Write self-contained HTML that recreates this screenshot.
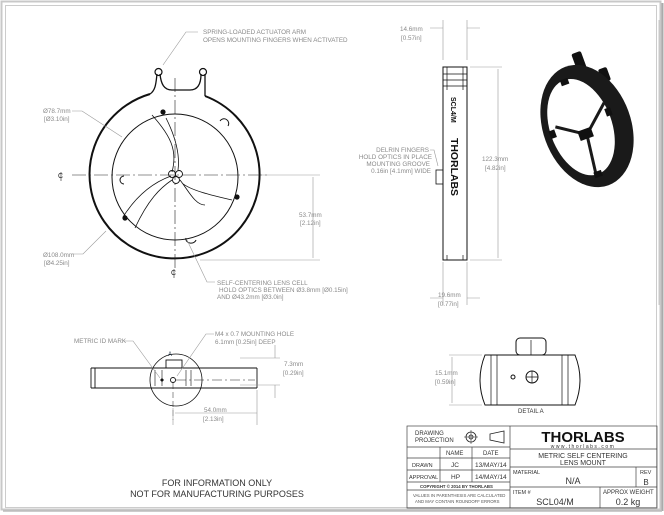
<!DOCTYPE html>
<html><head><meta charset="utf-8"><style>
html,body{margin:0;padding:0;background:#fff}
svg{display:block}
text{font-family:"Liberation Sans",sans-serif}
.a{font-size:6.3px;fill:#8a8a8a}
.d{stroke:#999;stroke-width:0.6;fill:none}
.k{stroke:#111;fill:none}
.t{font-size:6.5px;fill:#222}
</style></head><body>
<svg width="664" height="515" viewBox="0 0 664 515" xmlns="http://www.w3.org/2000/svg">
<rect x="0" y="0" width="664" height="515" fill="#fff"/>
<rect x="1.5" y="1.5" width="659" height="508" fill="none" stroke="#c8c8c8" stroke-width="2"/>
<line x1="662.5" y1="3" x2="662.5" y2="511" stroke="#aaa" stroke-width="2"/>
<line x1="3" y1="511" x2="662" y2="511" stroke="#bbb" stroke-width="1.5"/>
<rect x="5.5" y="5.5" width="651" height="502" fill="none" stroke="#ccc" stroke-width="1"/>

<!-- FRONT VIEW -->
<g class="k">
<path d="M150,94 A85,84 0 1 0 205,96" stroke-width="2"/>
<path d="M150,94 C156,90 156,82 157,74 M160,74 C161,84 164,90 172,90 L190,90 C198,90 201,84 201,74 M205,74 C205,86 205,94 205,96" stroke-width="1.3"/>
<circle cx="158.5" cy="72" r="3.5" stroke-width="1.2"/>
<circle cx="203" cy="72" r="3.5" stroke-width="1.2"/>
<circle cx="175" cy="177" r="63" stroke-width="1"/>
<path d="M124,184 A4,4 0 0 1 124,176 M220,121 A4,4 0 0 1 228,126 M186,238 A5,4 0 0 0 196,240" stroke-width="1"/>
<path d="M152,115 C170,135 178,150 172,172 M166,118 C176,138 180,155 178,170" stroke-width="0.8"/>
<path d="M205,205 C195,205 188,190 180,180 M232,200 C210,195 190,190 182,183" stroke-width="0.8"/>
<path d="M123,217 C140,190 160,180 171,176 M135,228 C148,200 160,188 172,180" stroke-width="0.8"/>
<circle cx="172" cy="174" r="3.5" stroke-width="0.9"/>
<circle cx="179" cy="174" r="3.5" stroke-width="0.9"/>
<circle cx="176" cy="180" r="3.5" stroke-width="0.9"/>
</g>
<circle cx="163" cy="112" r="2.6" fill="#111"/>
<circle cx="237" cy="197" r="2.6" fill="#111"/>
<circle cx="125" cy="218" r="2.6" fill="#111"/>
<line x1="175" y1="78" x2="175" y2="268" stroke="#222" stroke-width="0.6" stroke-dasharray="14,3,2,3"/>
<line x1="72" y1="175" x2="268" y2="175" stroke="#222" stroke-width="0.6" stroke-dasharray="14,3,2,3"/>
<text x="58" y="178" font-size="7" fill="#222">C</text><line x1="61" y1="172" x2="61" y2="181" stroke="#222" stroke-width="0.6"/>
<text x="171" y="275" font-size="7" fill="#222">C</text><line x1="174" y1="269" x2="174" y2="278" stroke="#222" stroke-width="0.6"/>
<!-- leaders -->
<path class="d" d="M198,32 L186,32 L163,65"/>
<text x="203" y="34" class="a">SPRING-LOADED ACTUATOR ARM</text>
<text x="203" y="42" class="a">OPENS MOUNTING FINGERS WHEN ACTIVATED</text>
<text x="43" y="113" class="a">Ø78.7mm</text><text x="44" y="121" class="a">[Ø3.10in]</text>
<path class="d" d="M72,111 L82,111 L122,137"/>
<text x="43" y="257" class="a">Ø108.0mm</text><text x="44" y="265" class="a">[Ø4.25in]</text>
<path class="d" d="M72,254 L83,254 L106,231"/>
<path class="d" d="M187,240 L207,282 L215,282"/>
<text x="217" y="285" class="a">SELF-CENTERING LENS CELL</text>
<text x="219" y="292" class="a">HOLD OPTICS BETWEEN Ø3.8mm [Ø0.15in]</text>
<text x="217" y="299" class="a">AND Ø43.2mm [Ø3.0in]</text>
<path class="d" d="M262,175 L320,175 M200,260 L320,260 M313,177 L313,258"/>
<text x="299" y="217" class="a">53.7mm</text><text x="300" y="225" class="a">[2.12in]</text>

<!-- SIDE VIEW -->
<rect x="443" y="67" width="24" height="193" class="k" stroke-width="1"/>
<path class="k" stroke-width="0.7" d="M447,67 V90 M463,67 V90 M443,74 H467 M443,80 H467 M443,86 H467 M447,255 V260 M463,255 V260"/>
<rect x="436" y="170" width="7" height="14" class="k" stroke-width="0.8"/>
<text transform="translate(451,97) rotate(90)" font-size="7" font-weight="bold" fill="#111">SCL4/M</text>
<text transform="translate(451,138) rotate(90)" font-size="10" font-weight="bold" fill="#111" textLength="58" lengthAdjust="spacingAndGlyphs">THORLABS</text>
<path class="d" d="M443,60 V20 M467,60 V20 M430,28 H443 M467,28 H480 M443,262 V305 M467,262 V305 M430,298 H443 M467,298 H480 M470,67 H502 M470,260 H502 M498,69 V258"/>
<text x="400" y="31" class="a">14.6mm</text><text x="401" y="40" class="a">[0.57in]</text>
<text x="438" y="297" class="a">19.6mm</text><text x="438" y="306" class="a">[0.77in]</text>
<text x="482" y="161" class="a">122.3mm</text><text x="485" y="170" class="a">[4.82in]</text>
<text x="429" y="152" class="a" text-anchor="end">DELRIN FINGERS</text>
<text x="432" y="159" class="a" text-anchor="end">HOLD OPTICS IN PLACE</text>
<text x="430" y="166" class="a" text-anchor="end">MOUNTING GROOVE</text>
<text x="431" y="173" class="a" text-anchor="end">0.16in [4.1mm] WIDE</text>
<path class="d" d="M430,150 L434,150 L438,166"/>

<!-- 3D -->
<rect x="574" y="52" width="10" height="18" rx="2" fill="#111" transform="rotate(-20 579 61)"/>
<rect x="600" y="68" width="9" height="14" rx="2" fill="#111" transform="rotate(-20 604 75)"/>
<g transform="translate(587,126) rotate(-20)">
<ellipse cx="0" cy="0" rx="44" ry="63" fill="#1a1a1a"/>
<ellipse cx="-6" cy="-1" rx="31" ry="50" fill="#fff"/>
<path d="M-3,8 L-30,-10 M-3,8 L24,-16 M-3,8 L-8,48" stroke="#1a1a1a" stroke-width="3"/>
<rect x="-11" y="2" width="14" height="10" fill="#111"/>
<rect x="-38" y="-8" width="6" height="8" fill="#111"/>
<rect x="22" y="-10" width="6" height="8" fill="#111"/>
<rect x="-10" y="46" width="8" height="6" fill="#111"/>
<rect x="-10" y="-52" width="8" height="6" fill="#111"/>
</g>
<line x1="659" y1="20" x2="659" y2="305" stroke="#bbb" stroke-width="0.8"/>

<!-- BOTTOM VIEW -->
<g class="k" stroke-width="0.9">
<path d="M91,368 H257 M91,388 H257 M91,368 V388 M95,368 V388 M257,368 V388"/>
<path d="M155,370 V386 M162,370 V386 M186,370 V386 M191,370 V386" stroke-width="0.6"/>
<rect x="166" y="360" width="16" height="8"/>
<circle cx="173" cy="380" r="2.5"/>
</g>
<circle cx="176" cy="380" r="26" class="k" stroke-width="0.8"/>
<path d="M160,380 l2,-2 l2,2 l-2,2z" fill="#111"/>
<line x1="176" y1="380" x2="255" y2="380" stroke="#222" stroke-width="0.5" stroke-dasharray="10,3,2,3"/>
<line x1="173" y1="383" x2="173" y2="420" stroke="#222" stroke-width="0.5" stroke-dasharray="6,3"/>
<text x="168" y="356" font-size="6" fill="#234">A</text>
<path class="d" d="M123,341 L133,341 L160,378 M214,334 L206,334 L177,376 M240,358 H280 M240,385 H280 M275,345 V358 M275,385 V398 M173,408 V425 M257,390 V425 M175,413 H257"/>
<text x="74" y="343" class="a">METRIC ID MARK</text>
<text x="215" y="336" class="a">M4 x 0.7 MOUNTING HOLE</text>
<text x="215" y="344" class="a">6.1mm [0.25in] DEEP</text>
<text x="284" y="366" class="a">7.3mm</text><text x="283" y="375" class="a">[0.29in]</text>
<text x="204" y="412" class="a">54.0mm</text><text x="203" y="421" class="a">[2.13in]</text>

<!-- DETAIL A -->
<g class="k" stroke-width="1">
<path d="M485,355 H575 Q585,380 575,405 H485 Q475,380 485,355Z"/>
<path d="M491,355 V405 M497,355 V405 M562,355 V405 M568,355 V405" stroke-width="0.7"/>
<rect x="516" y="338" width="30" height="17" rx="4"/>
<line x1="531" y1="340" x2="531" y2="355" stroke-width="0.7"/>
<circle cx="532" cy="377" r="6"/>
<path d="M526,377 H538 M532,371 V383" stroke-width="0.7"/>
<circle cx="513" cy="377" r="2" />
</g>
<path class="d" d="M449,355 H482 M449,405 H482 M452,357 V403"/>
<text x="435" y="375" class="a">15.1mm</text><text x="435" y="384" class="a">[0.59in]</text>
<text x="518" y="413" font-size="6" fill="#333">DETAIL A</text>

<!-- TITLE BLOCK -->
<g stroke="#444" stroke-width="0.7" fill="none">
<rect x="407" y="426" width="250" height="82"/>
<path d="M510,426 V508 M407,447 H510 M407,458 H510 M407,470 H510 M407,482 H510 M407,490 H510 M440,447 V482 M472,447 V482 M510,449 H657 M510,467 H657 M510,487 H657 M636,467 V487 M600,487 V508"/>
</g>
<text x="415" y="435" font-size="6" fill="#333">DRAWING</text>
<text x="415" y="442" font-size="6" fill="#333">PROJECTION</text>
<circle cx="471" cy="437" r="5" fill="none" stroke="#222" stroke-width="0.8"/><circle cx="471" cy="437" r="2" fill="none" stroke="#222" stroke-width="0.8"/>
<path d="M464,437 H478 M471,430 V444" stroke="#222" stroke-width="0.5"/>
<path d="M490,434 L504,431 V443 L490,440Z" fill="none" stroke="#222" stroke-width="0.8"/>
<text x="446" y="455" font-size="6" fill="#333">NAME</text><text x="483" y="455" font-size="6" fill="#333">DATE</text>
<text x="412" y="467" font-size="5.5" fill="#333">DRAWN</text><text x="451" y="467" font-size="6.5" fill="#333">JC</text><text x="475" y="467" font-size="6.5" fill="#333">13/MAY/14</text>
<text x="409" y="479" font-size="5.5" fill="#333">APPROVAL</text><text x="451" y="479" font-size="6.5" fill="#333">HP</text><text x="475" y="479" font-size="6.5" fill="#333">14/MAY/14</text>
<text x="420" y="488" font-size="4.3" font-weight="bold" fill="#333">COPYRIGHT © 2014 BY THORLABS</text>
<text x="413" y="497" font-size="4.3" fill="#555">VALUES IN PARENTHESIS ARE CALCULATED</text>
<text x="415" y="503" font-size="4.3" fill="#555">AND MAY CONTAIN ROUNDOFF ERRORS</text>
<text x="583" y="442" font-size="15" font-weight="bold" fill="#111" text-anchor="middle">THORLABS</text>
<text x="583" y="448" font-size="5" fill="#333" text-anchor="middle" letter-spacing="1.5">www.thorlabs.com</text>
<text x="583" y="458" font-size="7" fill="#333" text-anchor="middle">METRIC SELF CENTERING</text>
<text x="583" y="465" font-size="7" fill="#333" text-anchor="middle">LENS MOUNT</text>
<text x="513" y="474" font-size="5.5" fill="#333">MATERIAL</text>
<text x="573" y="484" font-size="9" fill="#333" text-anchor="middle">N/A</text>
<text x="640" y="474" font-size="5.5" fill="#333">REV</text><text x="646" y="485" font-size="8" fill="#333" text-anchor="middle">B</text>
<text x="513" y="494" font-size="5.5" fill="#333">ITEM #</text>
<text x="555" y="505" font-size="9" fill="#333" text-anchor="middle">SCL04/M</text>
<text x="603" y="494" font-size="6" fill="#333">APPROX WEIGHT</text>
<text x="628" y="505" font-size="9" fill="#333" text-anchor="middle">0.2 kg</text>

<text x="217" y="486" font-size="9" fill="#333" text-anchor="middle">FOR INFORMATION ONLY</text>
<text x="217" y="497" font-size="9" fill="#333" text-anchor="middle">NOT FOR MANUFACTURING PURPOSES</text>
</svg>
</body></html>
